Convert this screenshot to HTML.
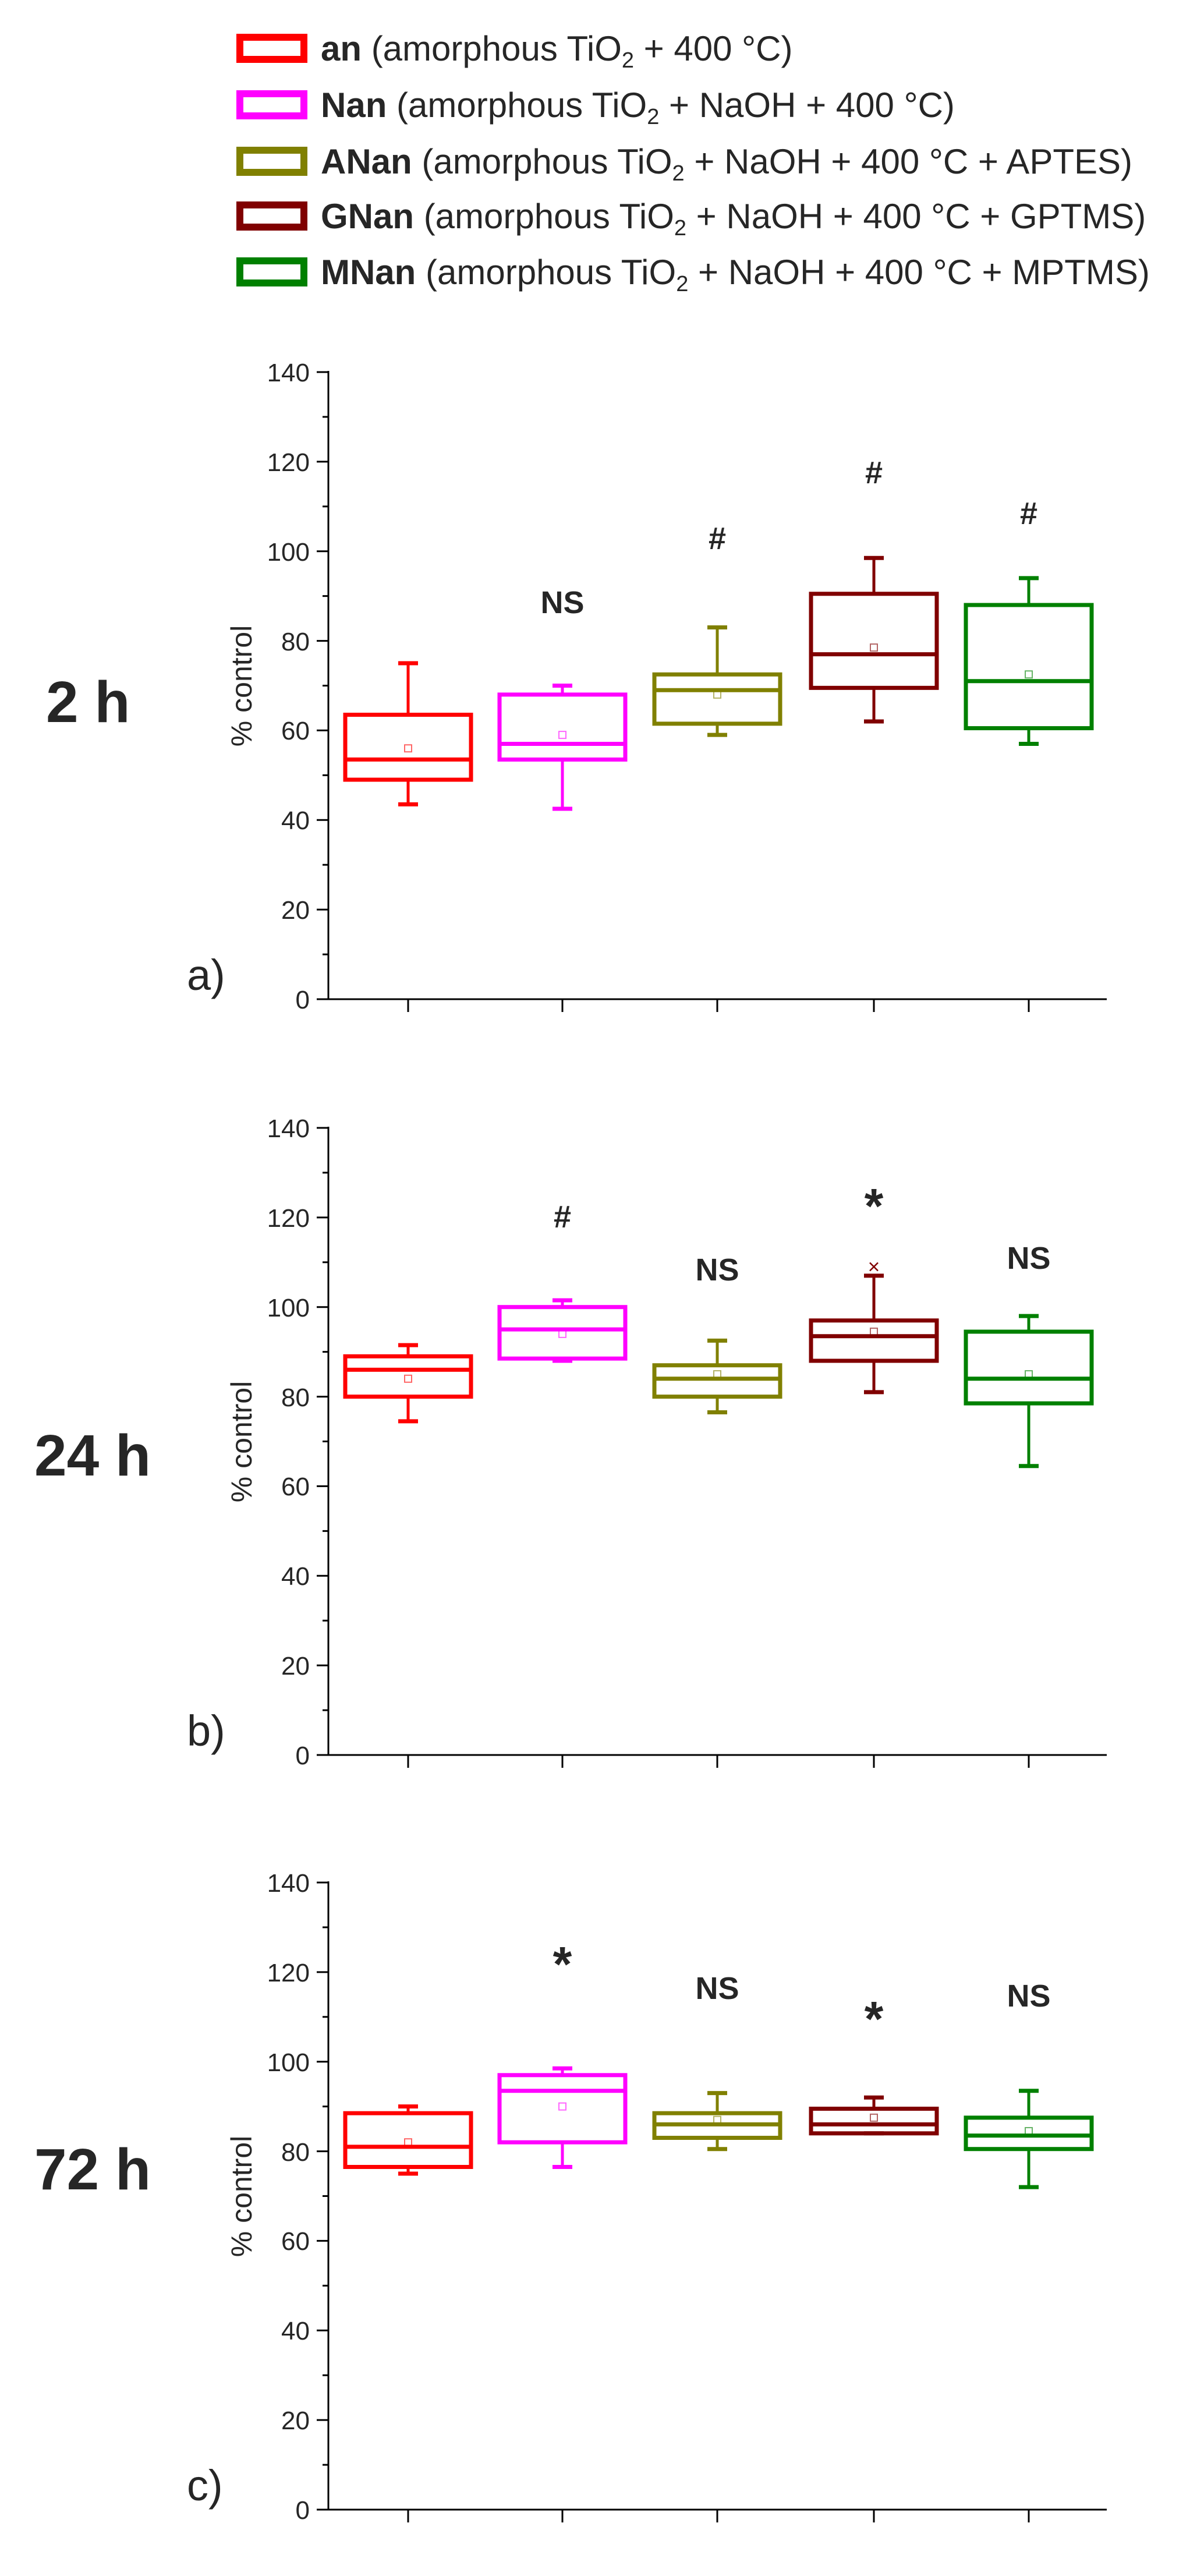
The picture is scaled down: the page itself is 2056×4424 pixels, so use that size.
<!DOCTYPE html>
<html><head><meta charset="utf-8"><style>
html,body{margin:0;padding:0;background:#fff;}
svg{display:block;}
text{font-family:"Liberation Sans",Arial,sans-serif;fill:#262626;}
</style></head><body>
<svg id="s" width="2056" height="4424" viewBox="0 0 2056 4424" xmlns="http://www.w3.org/2000/svg">
<rect width="2056" height="4424" fill="#fff"/>
<!-- legend -->
<g font-size="60">
<rect x="412" y="64" width="110" height="38" fill="none" stroke="#ff0000" stroke-width="12"/>
<text x="551" y="104"><tspan font-weight="bold">an</tspan> (amorphous TiO<tspan font-size="38" dy="12">2</tspan><tspan dy="-12"> + 400 °C)</tspan></text>
<rect x="412" y="161" width="110" height="38" fill="none" stroke="#ff00ff" stroke-width="12"/>
<text x="551" y="201"><tspan font-weight="bold">Nan</tspan> (amorphous TiO<tspan font-size="38" dy="12">2</tspan><tspan dy="-12"> + NaOH + 400 °C)</tspan></text>
<rect x="412" y="258" width="110" height="38" fill="none" stroke="#808000" stroke-width="12"/>
<text x="551" y="298"><tspan font-weight="bold">ANan</tspan> (amorphous TiO<tspan font-size="38" dy="12">2</tspan><tspan dy="-12"> + NaOH + 400 °C + APTES)</tspan></text>
<rect x="412" y="352" width="110" height="38" fill="none" stroke="#800000" stroke-width="12"/>
<text x="551" y="392"><tspan font-weight="bold">GNan</tspan> (amorphous TiO<tspan font-size="38" dy="12">2</tspan><tspan dy="-12"> + NaOH + 400 °C + GPTMS)</tspan></text>
<rect x="412" y="448" width="110" height="38" fill="none" stroke="#008000" stroke-width="12"/>
<text x="551" y="488"><tspan font-weight="bold">MNan</tspan> (amorphous TiO<tspan font-size="38" dy="12">2</tspan><tspan dy="-12"> + NaOH + 400 °C + MPTMS)</tspan></text>
</g>

<!-- panel labels -->
<g font-weight="bold" font-size="100">
<text x="79" y="1240">2 h</text>
<text x="59" y="2534">24 h</text>
<text x="59" y="3760">72 h</text>
</g>
<g font-size="74">
<text x="321" y="1700">a)</text>
<text x="321" y="2998">b)</text>
<text x="321" y="4294">c)</text>
</g>
<g font-size="50">
<text transform="translate(432,1178) rotate(-90)" text-anchor="middle">% control</text>
<text transform="translate(432,2476) rotate(-90)" text-anchor="middle">% control</text>
<text transform="translate(432,3772) rotate(-90)" text-anchor="middle">% control</text>
</g>

<!-- tick labels -->
<g font-size="44" text-anchor="end">
<text x="532" y="1732">0</text><text x="532" y="1578">20</text><text x="532" y="1424">40</text><text x="532" y="1270">60</text><text x="532" y="1117">80</text><text x="532" y="963">100</text><text x="532" y="809">120</text><text x="532" y="655">140</text>
<text x="532" y="3030">0</text><text x="532" y="2876">20</text><text x="532" y="2722">40</text><text x="532" y="2568">60</text><text x="532" y="2415">80</text><text x="532" y="2261">100</text><text x="532" y="2107">120</text><text x="532" y="1953">140</text>
<text x="532" y="4326">0</text><text x="532" y="4172">20</text><text x="532" y="4018">40</text><text x="532" y="3864">60</text><text x="532" y="3711">80</text><text x="532" y="3557">100</text><text x="532" y="3403">120</text><text x="532" y="3249">140</text>
</g>

<!-- annotations -->
<g font-weight="bold" font-size="54" text-anchor="middle">
<text x="966" y="1053">NS</text><text x="1232" y="943">#</text><text x="1501" y="830">#</text><text x="1767" y="900">#</text>
<text x="966" y="2108">#</text><text x="1232" y="2199">NS</text><text x="1767" y="2179">NS</text>
<text x="1232" y="3433">NS</text><text x="1767" y="3446">NS</text>
</g>
<g font-weight="bold" font-size="84" text-anchor="middle">
<text x="1501" y="2100">*</text>
<text x="966" y="3402">*</text>
<text x="1501" y="3496">*</text>
</g>

<g id="plots"></g>
</svg>
<script>
(function(){
var g=document.getElementById('plots');var NS='http://www.w3.org/2000/svg';
function el(t,a){var e=document.createElementNS(NS,t);for(var k in a)e.setAttribute(k,a[k]);g.appendChild(e);return e;}
var K=1077/140;var X0=564,X1=1901;
var cx=[701,966,1232,1501,1767];
var col=['#ff0000','#ff00ff','#808000','#800000','#008000'];
var panels=[
 {y0:1716,d:[[43.5,49,53.5,63.5,75,56],[42.5,53.5,57,68,70,59],[59,61.5,69,72.5,83,68],[62,69.5,77,90.5,98.5,78.5],[57,60.5,71,88,94,72.5]]},
 {y0:3014,d:[[74.5,80,86,89,91.5,84],[88,88.5,95,100,101.5,94],[76.5,80,84,87,92.5,85],[81,88,93.5,97,107,94.5],[64.5,78.5,84,94.5,98,85]]},
 {y0:4310,d:[[75,76.5,81,88.5,90,82],[76.5,82,93.5,97,98.5,90],[80.5,83,86,88.5,93,87],[84,84,86,89.5,92,87.5],[72,80.5,83.5,87.5,93.5,84.5]]}
];
panels.forEach(function(p,pi){
 var y=function(v){return p.y0-v*K;};
 el('line',{x1:X0,y1:y(140)-2,x2:X0,y2:p.y0,stroke:'#000','stroke-width':3});
 el('line',{x1:X0-1,y1:p.y0,x2:X1,y2:p.y0,stroke:'#000','stroke-width':3});
 for(var v=0;v<=140;v+=10){el('line',{x1:v%20?X0-10:X0-20,y1:y(v),x2:X0,y2:y(v),stroke:'#000','stroke-width':3});}
 cx.forEach(function(c){el('line',{x1:c,y1:p.y0,x2:c,y2:p.y0+22,stroke:'#000','stroke-width':3});});
 p.d.forEach(function(d,i){
  var c=cx[i],s=col[i],hw=108;
  el('line',{x1:c,y1:y(d[0]),x2:c,y2:y(d[1]),stroke:s,'stroke-width':5});
  el('line',{x1:c,y1:y(d[3]),x2:c,y2:y(d[4]),stroke:s,'stroke-width':5});
  el('line',{x1:c-17,y1:y(d[0]),x2:c+17,y2:y(d[0]),stroke:s,'stroke-width':7});
  el('line',{x1:c-17,y1:y(d[4]),x2:c+17,y2:y(d[4]),stroke:s,'stroke-width':7});
  el('rect',{x:c-hw,y:y(d[3]),width:2*hw,height:(d[3]-d[1])*K,fill:'none',stroke:s,'stroke-width':7});
  el('line',{x1:c-hw,y1:y(d[2]),x2:c+hw,y2:y(d[2]),stroke:s,'stroke-width':7});
  el('rect',{x:c-6,y:y(d[5])-6,width:12,height:12,fill:'none',stroke:s,'stroke-width':2,opacity:0.6});
 });
 if(pi==1){var yy=y(109);el('path',{d:'M'+(1501-7)+' '+(yy-7)+'L'+(1501+7)+' '+(yy+7)+'M'+(1501+7)+' '+(yy-7)+'L'+(1501-7)+' '+(yy+7),stroke:'#800000','stroke-width':2.5});}
});
})();
</script>
</body></html>
